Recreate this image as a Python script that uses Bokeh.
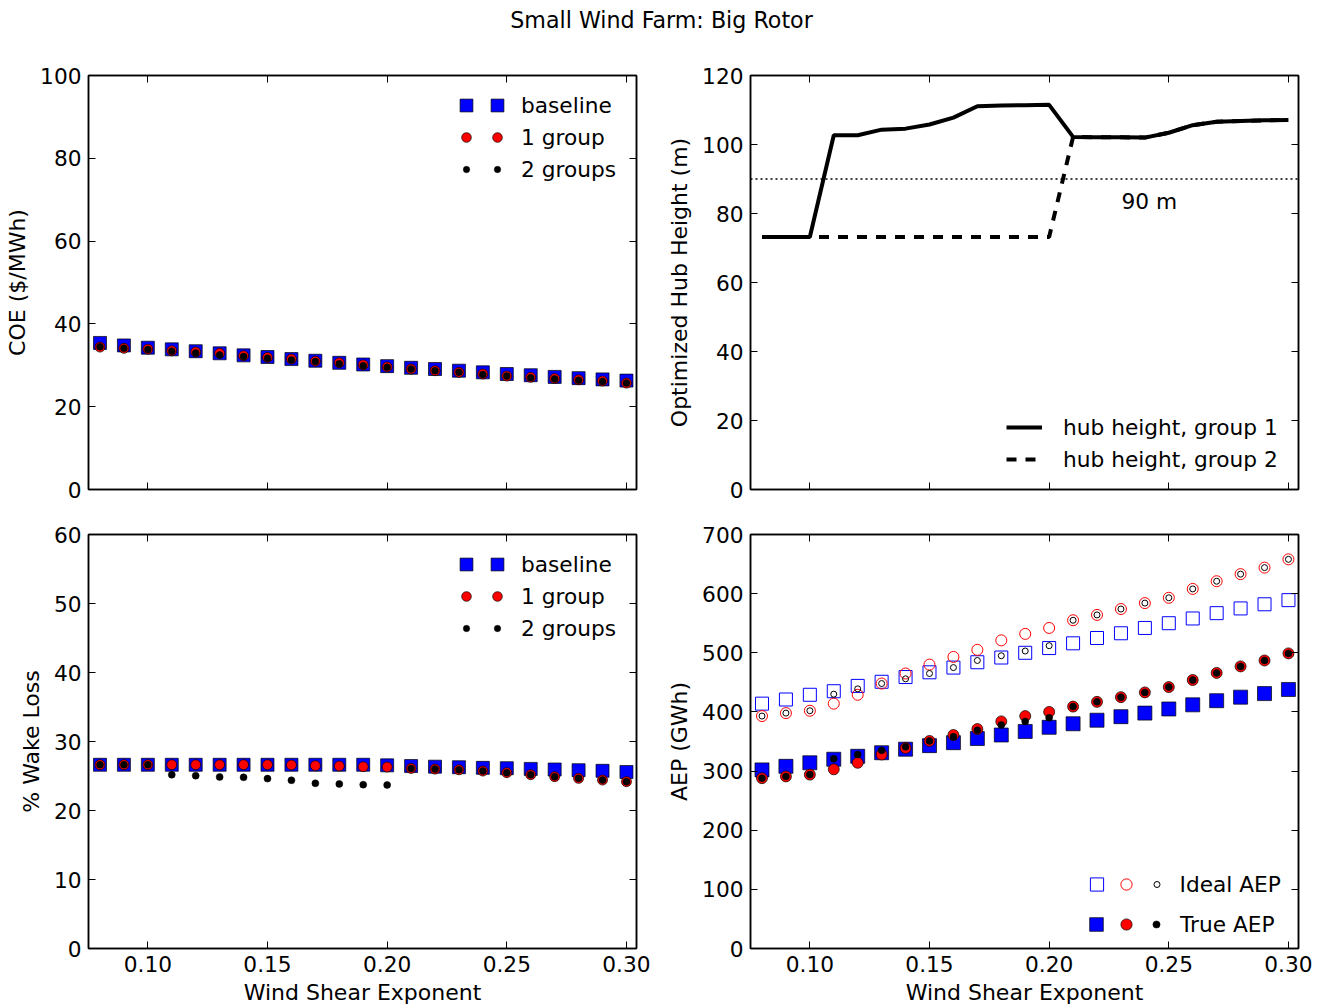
from bokeh.plotting import figure
from bokeh.models import (Range1d, LinearAxis, FixedTicker, PrintfTickFormatter,
                          CustomJSTickFormatter, Legend, LegendItem, Label, Span)
from bokeh.layouts import column, row
from bokeh.embed import file_html
from bokeh.resources import INLINE

FONT = "DejaVu Sans"

# ---------------- data ----------------
wind_shear = [0.08, 0.09, 0.10, 0.11, 0.12, 0.13, 0.14, 0.15, 0.16, 0.17, 0.18, 0.19,
              0.20, 0.21, 0.22, 0.23, 0.24, 0.25, 0.26, 0.27, 0.28, 0.29, 0.30]

coe_baseline = [35.4, 34.8, 34.25, 33.85, 33.4, 32.9, 32.4, 32.0, 31.5, 31.1, 30.6, 30.2,
                29.8, 29.4, 29.1, 28.7, 28.3, 27.9, 27.6, 27.2, 26.9, 26.6, 26.3]
coe_1group = [34.4, 34.1, 33.9, 33.5, 33.2, 32.9, 32.3, 31.9, 31.5, 31.0, 30.6, 30.1,
              29.6, 29.1, 28.7, 28.3, 27.9, 27.4, 27.1, 26.8, 26.5, 26.2, 25.7]
coe_2groups = [34.5, 34.1, 33.8, 33.4, 33.0, 32.5, 32.1, 31.7, 31.3, 30.9, 30.4, 29.9,
               29.5, 29.1, 28.7, 28.3, 27.8, 27.4, 27.0, 26.7, 26.4, 26.1, 25.7]

hub_group1 = [73.2, 73.2, 73.2, 102.7, 102.7, 104.3, 104.6, 105.8, 107.8, 111.1, 111.3, 111.4,
              111.5, 102.2, 102.1, 102.1, 102.0, 103.4, 105.6, 106.6, 106.8, 107.0, 107.1]
hub_group2 = [73.2, 73.2, 73.2, 73.2, 73.2, 73.2, 73.2, 73.2, 73.2, 73.2, 73.2, 73.2,
              73.2, 102.2, 102.1, 102.1, 102.0, 103.4, 105.6, 106.6, 106.8, 107.0, 107.1]
ref_height = 90

wake_baseline = [26.63, 26.63, 26.63, 26.63, 26.63, 26.63, 26.63, 26.63, 26.63, 26.63, 26.63, 26.63,
                 26.54, 26.44, 26.35, 26.27, 26.18, 26.13, 26.03, 25.94, 25.84, 25.75, 25.58]
wake_1group = [26.63, 26.63, 26.63, 26.63, 26.63, 26.63, 26.63, 26.63, 26.59, 26.5, 26.44, 26.35,
               26.3, 26.1, 26.0, 25.9, 25.72, 25.48, 25.19, 24.9, 24.66, 24.42, 24.18]
wake_2groups = [26.63, 26.63, 26.63, 25.19, 25.05, 24.86, 24.81, 24.62, 24.38, 23.94, 23.85, 23.75,
                23.7, 26.1, 26.0, 25.9, 25.72, 25.48, 25.19, 24.9, 24.66, 24.42, 24.18]

aep_ideal_baseline = [414, 421, 429, 435, 444, 451, 459, 467, 475, 484, 492, 500,
                      508, 516, 525, 533, 542, 550, 558, 567, 575, 582, 589]
aep_ideal_1group = [393, 398, 402, 414, 429, 448, 465, 480, 493, 505, 521, 532,
                    542, 555, 564, 574, 584, 593, 608, 621, 633, 644, 658]
aep_ideal_2groups = [393, 398, 402, 430, 439, 448, 456, 465, 475, 487, 495, 503,
                     512, 555, 564, 574, 584, 593, 608, 621, 633, 644, 658]
aep_true_baseline = [302, 308, 314, 320, 325, 331, 337, 343, 348, 355, 361, 367,
                     374, 380, 386, 392, 398, 405, 412, 419, 425, 431, 438]
aep_true_1group = [288, 291, 294, 303, 314, 328, 339, 351, 361, 371, 384, 393,
                   400, 409, 417, 425, 433, 442, 454, 466, 477, 487, 499]
aep_true_2groups = [288, 291, 294, 321, 328, 335, 341, 351, 358, 369, 378, 384,
                    390, 409, 417, 425, 433, 442, 454, 466, 477, 487, 499]

x_ticks = [0.10, 0.15, 0.20, 0.25, 0.30]
coe_ticks = [0, 20, 40, 60, 80, 100]
hub_ticks = [0, 20, 40, 60, 80, 100, 120]
wake_ticks = [0, 10, 20, 30, 40, 50, 60]
aep_ticks = [0, 100, 200, 300, 400, 500, 600, 700]

title_text = "Small Wind Farm: Big Rotor"
x_title = "Wind Shear Exponent"

# ---------------- helpers ----------------
XR = (0.0752, 0.3042)
FW, FH = 548, 414
BLUE, RED, BLACK = "#0000ff", "#ff0000", "#000000"
TICK_FS = "21.7px"
LEG_FS = "21.7px"


def style_axis(ax, ticks, fmt, show):
    ax.ticker = FixedTicker(ticks=ticks, minor_ticks=[])
    ax.major_tick_in = 7
    ax.major_tick_out = 0
    ax.minor_tick_in = 0
    ax.minor_tick_out = 0
    ax.major_tick_line_color = BLACK
    ax.major_tick_line_width = 1
    ax.axis_line_color = BLACK
    ax.axis_line_width = 1.5
    if show:
        ax.formatter = PrintfTickFormatter(format=fmt)
        ax.major_label_text_font = FONT
        ax.major_label_text_font_size = TICK_FS
        ax.major_label_text_color = BLACK
        ax.major_label_standoff = 7
    else:
        ax.formatter = CustomJSTickFormatter(code="return ''")
        ax.major_label_text_font_size = "0px"
        ax.major_label_standoff = 0


def label_axis(ax, text, standoff):
    ax.axis_label = text
    ax.axis_label_text_font = FONT
    ax.axis_label_text_font_size = "22px"
    ax.axis_label_text_font_style = "normal"
    ax.axis_label_text_color = BLACK
    ax.axis_label_standoff = standoff


def make_fig(ymax, yticks, ylabel, xlabels, left, right, top, bottom):
    p = figure(frame_width=FW, frame_height=FH, x_range=Range1d(*XR), y_range=Range1d(0, ymax),
               output_backend="svg", toolbar_location=None,
               x_axis_location=None, y_axis_location=None,
               min_border_left=left, min_border_right=right,
               min_border_top=top, min_border_bottom=bottom,
               background_fill_color="white", border_fill_color="white")
    p.grid.visible = False
    p.outline_line_color = BLACK
    p.outline_line_width = 1.5
    bottom_ax = LinearAxis()
    style_axis(bottom_ax, x_ticks, "%.2f", xlabels)
    if xlabels:
        label_axis(bottom_ax, x_title, 5)
    p.add_layout(bottom_ax, "below")
    left_ax = LinearAxis()
    style_axis(left_ax, yticks, "%d", True)
    label_axis(left_ax, ylabel, 7)
    p.add_layout(left_ax, "left")
    right_ax = LinearAxis()
    style_axis(right_ax, yticks, "%d", False)
    p.add_layout(right_ax, "right")
    top_ax = LinearAxis()
    style_axis(top_ax, x_ticks, "%.2f", False)
    p.add_layout(top_ax, "above")
    return p


def add_leg(p, renderers, labels, cx, cy, gw, gh, standoff=0, spacing=0):
    """cx, cy: centre of the first legend glyph, in px from the frame's top-left."""
    items = [LegendItem(label=lab, renderers=[r]) for r, lab in zip(renderers, labels)]
    n = len(items)
    total_h = n * gh + (n - 1) * spacing
    bottom = FH - (cy - gh / 2.0) - total_h
    leg = Legend(items=items, location=(cx - gw / 2.0, bottom),
                 orientation="vertical", glyph_width=int(gw), glyph_height=gh,
                 label_height=gh, label_width=0, label_standoff=standoff,
                 padding=0, margin=0, spacing=spacing, border_line_color=None,
                 background_fill_alpha=0, label_text_font=FONT,
                 label_text_font_size=LEG_FS, label_text_color=BLACK)
    p.add_layout(leg)


# ---------------- header ----------------
head = figure(width=1325, height=38, x_range=Range1d(0, 1), y_range=Range1d(0, 1),
              toolbar_location=None, output_backend="svg", min_border=0,
              x_axis_location=None, y_axis_location=None, outline_line_color=None)
head.grid.visible = False
head.add_layout(Label(x=661, y=19, x_units="screen", y_units="screen", text=title_text,
                      text_align="center", text_baseline="middle", text_font=FONT,
                      text_font_size="22.2px", text_color=BLACK))

# ---------------- COE (top left) ----------------
tl = make_fig(100, coe_ticks, "COE ($/MWh)", False, 88, 24, 37, 20)
r_b = tl.scatter(wind_shear, coe_baseline, marker="square", size=13, fill_color=BLUE,
                 line_color=BLACK, line_width=0.7)
r_1 = tl.scatter(wind_shear, coe_1group, marker="circle", size=10, fill_color=RED,
                 line_color=BLACK, line_width=0.7)
r_2 = tl.scatter(wind_shear, coe_2groups, marker="circle", size=7, fill_color=BLACK,
                 line_color=BLACK, line_width=0.5)

# ---------------- hub height (top right) ----------------
tr = make_fig(120, hub_ticks, "Optimized Hub Height (m)", False, 90, 27, 37, 20)
l1 = tr.line(wind_shear, hub_group1, line_color=BLACK, line_width=4)
l2 = tr.line(wind_shear, hub_group2, line_color=BLACK, line_width=4, line_dash="10 9")
tr.add_layout(Span(location=ref_height, dimension="width", line_color=BLACK,
                   line_width=1.5, line_dash="2 3"))
tr.add_layout(Label(x=0.2302, y=83.5, text="90 m", text_font=FONT, text_font_size=LEG_FS,
                    text_color=BLACK, text_baseline="alphabetic"))
add_leg(tr, [l1, l2], ["hub height, group 1", "hub height, group 2"], 274, 352, 36, 30,
        standoff=21, spacing=2)

# ---------------- wake loss (bottom left) ----------------
bl = make_fig(60, wake_ticks, "% Wake Loss", True, 88, 24, 25, 60)
w_b = bl.scatter(wind_shear, wake_baseline, marker="square", size=13, fill_color=BLUE,
                 line_color=BLACK, line_width=0.7)
w_1 = bl.scatter(wind_shear, wake_1group, marker="circle", size=10, fill_color=RED,
                 line_color=BLACK, line_width=0.7)
w_2 = bl.scatter(wind_shear, wake_2groups, marker="circle", size=7, fill_color=BLACK,
                 line_color=BLACK, line_width=0.5)

# ---------------- AEP (bottom right) ----------------
br = make_fig(700, aep_ticks, "AEP (GWh)", True, 90, 27, 25, 60)
a_ib = br.scatter(wind_shear, aep_ideal_baseline, marker="square", size=13, fill_color=None,
                  line_color=BLUE, line_width=1)
a_i1 = br.scatter(wind_shear, aep_ideal_1group, marker="circle", size=11, fill_color=None,
                  line_color=RED, line_width=1)
a_i2 = br.scatter(wind_shear, aep_ideal_2groups, marker="circle", size=6, fill_color=None,
                  line_color=BLACK, line_width=1)
a_tb = br.scatter(wind_shear, aep_true_baseline, marker="square", size=14, fill_color=BLUE,
                  line_color=BLACK, line_width=0.7)
a_t1 = br.scatter(wind_shear, aep_true_1group, marker="circle", size=11, fill_color=RED,
                  line_color=BLACK, line_width=0.7)
a_t2 = br.scatter(wind_shear, aep_true_2groups, marker="circle", size=7, fill_color=BLACK,
                  line_color=BLACK, line_width=0.5)

# ---------------- legends ----------------
for p, (rb, r1, r2) in ((tl, (r_b, r_1, r_2)), (bl, (w_b, w_1, w_2))):
    for r, lab, cy, gw, st in ((rb, "baseline", 30, 32, 8),
                               (r1, "1 group", 62, 24, 12),
                               (r2, "2 groups", 94, 16, 16)):
        add_leg(p, [r], [""], 378, cy, gw, 32)
        add_leg(p, [r], [lab], 409, cy, gw, 32, standoff=st)

add_leg(br, [a_ib], [""], 346, 350, 33, 34)
add_leg(br, [a_i1], [""], 376, 350, 28, 34)
add_leg(br, [a_i2], ["Ideal AEP"], 406, 350, 15, 34, standoff=16)
add_leg(br, [a_tb], [""], 346, 390, 34, 34)
add_leg(br, [a_t1], [""], 376, 390, 28, 34)
add_leg(br, [a_t2], ["True AEP"], 406, 390, 18, 34, standoff=15)

layout = column(head, row(tl, tr), row(bl, br))
open("out.html", "w").write(file_html(layout, INLINE))
